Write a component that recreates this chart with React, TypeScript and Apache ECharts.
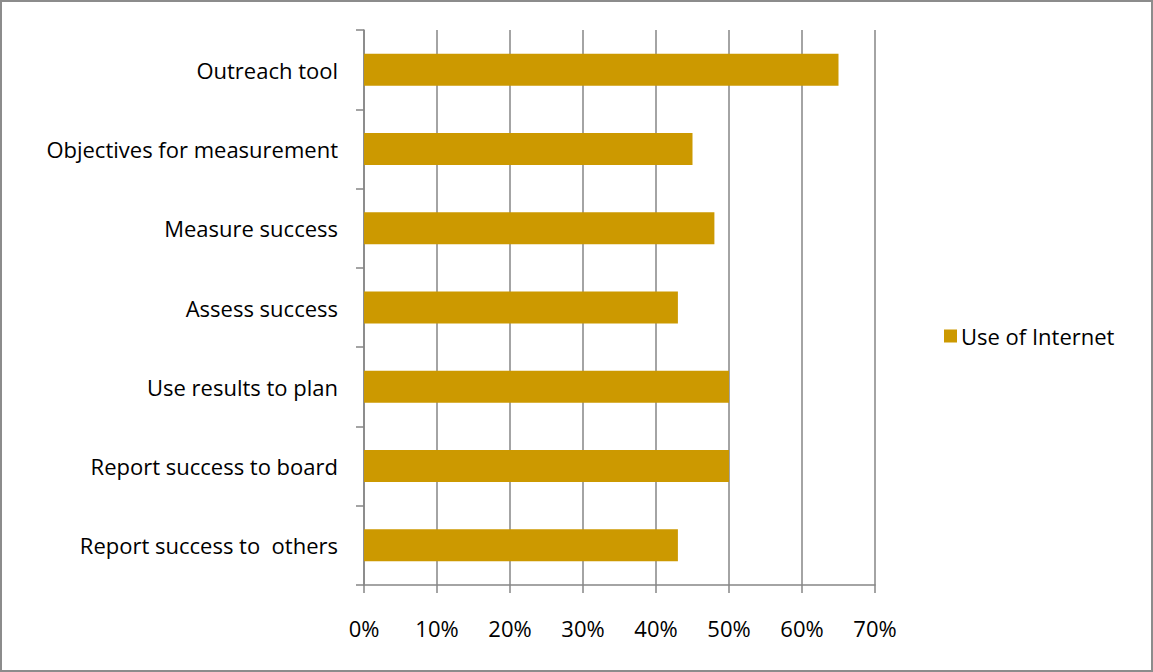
import React, { useEffect, useRef } from "react";
import * as echarts from "echarts";

const categories = [
  "Outreach tool",
  "Objectives for measurement",
  "Measure success",
  "Assess success",
  "Use results to plan",
  "Report success to board",
  "Report success to  others",
];
const seriesName = "Use of Internet";
const values = [65, 45, 48, 43, 50, 50, 43];

export default function App() {
  const ref = useRef<HTMLDivElement>(null);
  useEffect(() => {
    document.body.style.margin = "0";
    const chart = echarts.init(ref.current!, null, { renderer: "svg" });
    const gray = "#868686";
    const font = "'Open Sans', sans-serif";
    const fs = 22;
    chart.setOption({
      animation: false,
      textStyle: { fontFamily: font },
      grid: { left: 364, right: 278, top: 30, bottom: 87, containLabel: false },
      legend: {
        data: [seriesName],
        left: 939,
        top: 320,
        icon: "rect",
        itemWidth: 13,
        itemHeight: 13,
        itemGap: 5,
        textStyle: { fontSize: fs, color: "#000", fontFamily: font, padding: [0, 0, 0, -1] },
      },
      xAxis: {
        type: "value",
        min: 0,
        max: 70,
        interval: 10,
        axisLine: { show: true, lineStyle: { color: gray, width: 1.5 } },
        axisTick: { show: true, length: 8, lineStyle: { color: gray, width: 1.5 } },
        splitLine: { show: true, lineStyle: { color: gray, width: 1.5 } },
        axisLabel: { formatter: "{value}%", color: "#000", fontSize: fs, margin: 32, fontFamily: font },
      },
      yAxis: {
        type: "category",
        data: categories,
        inverse: true,
        axisLine: { show: true, lineStyle: { color: gray, width: 1.5 } },
        axisTick: { show: true, length: 8, alignWithLabel: false, lineStyle: { color: gray, width: 1.5 } },
        splitLine: { show: false },
        axisLabel: { color: "#000", fontSize: fs, margin: 26, fontFamily: font },
      },
      series: [
        {
          name: seriesName,
          type: "bar",
          data: values,
          barWidth: 32,
          itemStyle: { color: "#CC9900" },
        },
      ],
    });
    return () => chart.dispose();
  }, []);
  return (
    <div
      style={{
        position: "absolute",
        left: 0,
        top: 0,
        width: 1153,
        height: 672,
        boxSizing: "border-box",
        border: "2px solid #8c8c8c",
        background: "#fff",
      }}
    >
      <div ref={ref} style={{ position: "absolute", left: -2, top: -2, width: 1153, height: 672 }} />
    </div>
  );
}
